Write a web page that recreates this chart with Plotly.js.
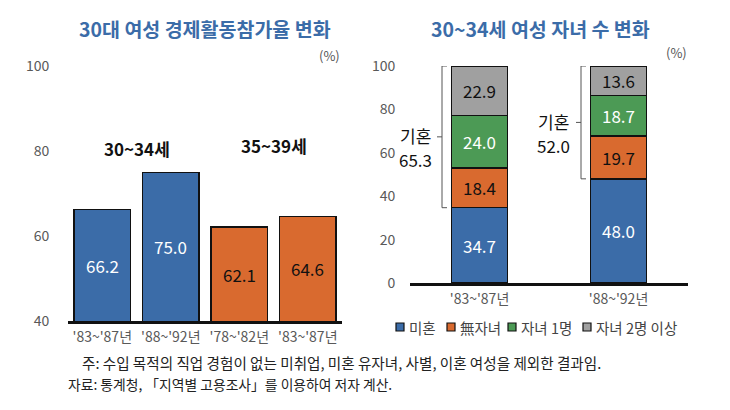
<!DOCTYPE html>
<html>
<head>
<meta charset="utf-8">
<script src="https://cdn.plot.ly/plotly-3.0.1.min.js"></script>
<style>
html,body{margin:0;padding:0;background:#fff;}
#chart{width:730px;height:410px;}
</style>
</head>
<body>
<div id="chart"></div>
<script>
// ---- data ----
const leftCats = ["'83~'87년", "'88~'92년", "'78~'82년", "'83~'87년"];
const leftVals = [66.2, 75.0, 62.1, 64.6];
const leftGroupIdx = [0, 0, 1, 1];
const leftGroups = ["30~34세", "35~39세"];
const leftTicks = [40, 60, 80, 100];

const rightCats = ["'83~'87년", "'88~'92년"];
const seriesNames = ["미혼", "無자녀", "자녀 1명", "자녀 2명 이상"];
const unmarried = [34.7, 48.0];
const childless = [18.4, 19.7];
const oneChild = [24.0, 18.7];
const twoPlus = [22.9, 13.6];
const marriedTotal = [65.3, 52.0];
const rightTicks = [0, 20, 40, 60, 80, 100];

const leftTitle = "30대 여성 경제활동참가율 변화";
const rightTitle = "30~34세 여성 자녀 수 변화";
const unitLabel = "(%)";
const marriedLabel = "기혼";
const note1 = "주: 수입 목적의 직업 경험이 없는 미취업, 미혼 유자녀, 사별, 이혼 여성을 제외한 결과임.";
const note2 = "자료: 통계청, 「지역별 고용조사」를 이용하여 저자 계산.";

// ---- styles ----
const FONT = "'Noto Sans CJK KR', 'Noto Sans', sans-serif";
const groupColors = ["#3b6ca8", "#d96a2f"];
const groupTextColors = ["#ffffff", "#111111"];
const seriesColors = ["#3b6ca8", "#d96a2f", "#4c9a55", "#a0a0a0"];
const seriesTextColors = ["#ffffff", "#111111", "#ffffff", "#111111"];
const W = 730, H = 410;
const px = v => v / W;
const py = v => 1 - v / H;
const LEFT_MIN = leftTicks[0];

const traces = [];
traces.push({
  type: 'bar',
  x: leftVals.map((_, i) => i),
  y: leftVals,
  width: 0.82,
  xaxis: 'x', yaxis: 'y',
  marker: {color: leftGroupIdx.map(g => groupColors[g]), line: {color: '#111', width: 1.5}},
  hoverinfo: 'skip',
  showlegend: false
});
const rightSeries = [unmarried, childless, oneChild, twoPlus];
rightSeries.forEach((vals, s) => {
  traces.push({
    type: 'bar',
    name: seriesNames[s],
    x: rightCats.map((_, i) => i),
    y: vals,
    width: 0.4,
    xaxis: 'x2', yaxis: 'y2',
    marker: {color: seriesColors[s], line: {color: '#111', width: 1.5}},
    texttemplate: '%{y:.1f}',
    textposition: 'inside',
    insidetextanchor: 'middle',
    textangle: 0,
    constraintext: 'none',
    textfont: {family: FONT, size: 17, color: seriesTextColors[s]},
    hoverinfo: 'skip',
    showlegend: false
  });
});

const annotations = [];
const shapes = [];
// left bar value labels (centered on visible part of each bar)
leftVals.forEach((v, i) => {
  annotations.push({text: v.toFixed(1), xref: 'x', yref: 'y', x: i, y: (LEFT_MIN + v) / 2, showarrow: false,
    font: {family: FONT, size: 17, color: groupTextColors[leftGroupIdx[i]]}, xanchor: 'center', yanchor: 'middle'});
});
// titles
annotations.push({text: leftTitle, xref: 'paper', yref: 'paper', x: px(205), y: py(28), showarrow: false,
  font: {family: FONT, size: 19.5, color: '#3b6ca8', weight: 'bold'}, xanchor: 'center', yanchor: 'middle'});
annotations.push({text: rightTitle, xref: 'paper', yref: 'paper', x: px(540), y: py(28), showarrow: false,
  font: {family: FONT, size: 19.5, color: '#3b6ca8', weight: 'bold'}, xanchor: 'center', yanchor: 'middle'});
// units
annotations.push({text: unitLabel, xref: 'paper', yref: 'paper', x: px(329), y: py(55), showarrow: false,
  font: {family: FONT, size: 13, color: '#555'}, xanchor: 'center', yanchor: 'middle'});
annotations.push({text: unitLabel, xref: 'paper', yref: 'paper', x: px(676), y: py(52), showarrow: false,
  font: {family: FONT, size: 13, color: '#555'}, xanchor: 'center', yanchor: 'middle'});
// group labels
const groupPos = [{x: 0.5, y: 80.7}, {x: 2.5, y: 81.4}];
leftGroups.forEach((g, i) => {
  annotations.push({text: g, xref: 'x', yref: 'y', x: groupPos[i].x, y: groupPos[i].y, showarrow: false,
    font: {family: FONT, size: 17, color: '#111', weight: 'bold'}, xanchor: 'center', yanchor: 'middle'});
});
// married brackets
const bracketX = [442, 581];
const labelX = [415, 553];
marriedTotal.forEach((m, i) => {
  const lo = 100 - m, hi = 100, mid = (lo + hi) / 2;
  const bx = bracketX[i];
  shapes.push({type: 'path', xref: 'paper', yref: 'y2',
    path: `M${px(bx + 5)},${lo} L${px(bx)},${lo} L${px(bx)},${hi} L${px(bx + 5)},${hi}`,
    line: {color: '#555', width: 1}});
  shapes.push({type: 'line', xref: 'paper', yref: 'y2', x0: px(bx - 5), x1: px(bx), y0: mid, y1: mid,
    line: {color: '#555', width: 1}});
  annotations.push({text: marriedLabel, xref: 'paper', yref: 'y2', x: px(labelX[i]), y: mid,
    yshift: 1, showarrow: false, borderpad: 0,
    font: {family: FONT, size: 17, color: '#111'}, xanchor: 'center', yanchor: 'middle'});
  annotations.push({text: m.toFixed(1), xref: 'paper', yref: 'y2', x: px(labelX[i]), y: mid,
    yshift: -23, showarrow: false, borderpad: 0,
    font: {family: FONT, size: 17, color: '#111'}, xanchor: 'center', yanchor: 'middle'});
});
// manual legend
const legSquareX = [396, 447, 508, 583];
const legY = 327;
seriesNames.forEach((n, s) => {
  const x0 = legSquareX[s];
  shapes.push({type: 'rect', xref: 'paper', yref: 'paper', x0: px(x0), x1: px(x0 + 8), y0: py(legY + 4), y1: py(legY - 4),
    fillcolor: seriesColors[s], line: {color: '#111', width: 1.2}});
  annotations.push({text: n, xref: 'paper', yref: 'paper', x: px(x0 + 11), y: py(legY), showarrow: false,
    font: {family: FONT, size: 14.5, color: '#444'}, xanchor: 'left', yanchor: 'middle'});
});
// notes
annotations.push({text: note1, xref: 'paper', yref: 'paper', x: px(81), y: py(362.5), showarrow: false, borderpad: 0,
  font: {family: FONT, size: 14.6, color: '#222'}, xanchor: 'left', yanchor: 'middle'});
annotations.push({text: note2, xref: 'paper', yref: 'paper', x: px(67), y: py(384), showarrow: false, borderpad: 0,
  font: {family: FONT, size: 13.8, color: '#222'}, xanchor: 'left', yanchor: 'middle'});

const tickFont = {family: FONT, size: 14, color: '#595959'};
const layout = {
  width: W, height: H, autosize: false,
  margin: {l: 0, r: 0, t: 0, b: 0},
  paper_bgcolor: '#fff', plot_bgcolor: '#fff',
  barmode: 'stack',
  showlegend: false,
  xaxis: {domain: [px(68), px(342)], range: [-0.5, 3.5], tickvals: leftVals.map((_, i) => i), ticktext: leftCats,
    showline: true, linecolor: '#111', linewidth: 2.5, showgrid: false, zeroline: false,
    ticks: 'outside', ticklen: 2, tickcolor: 'rgba(0,0,0,0)', tickfont: tickFont, fixedrange: true},
  yaxis: {domain: [py(321), py(66)], range: [LEFT_MIN, 100], tickvals: leftTicks, showline: false, showgrid: false, zeroline: false,
    ticks: 'outside', ticklen: 15, tickcolor: 'rgba(0,0,0,0)', tickfont: tickFont, fixedrange: true},
  xaxis2: {domain: [px(410), px(688)], range: [-0.5, 1.5], tickvals: rightCats.map((_, i) => i), ticktext: rightCats,
    anchor: 'y2', showline: true, linecolor: '#111', linewidth: 2.5, showgrid: false, zeroline: false,
    ticks: 'outside', ticklen: 2, tickcolor: 'rgba(0,0,0,0)', tickfont: tickFont, fixedrange: true},
  yaxis2: {domain: [py(283), py(66)], range: [0, 100], tickvals: rightTicks, anchor: 'x2', showline: false, showgrid: false, zeroline: false,
    ticks: 'outside', ticklen: 11, tickcolor: 'rgba(0,0,0,0)', tickfont: tickFont, fixedrange: true},
  annotations: annotations,
  shapes: shapes
};
Plotly.newPlot('chart', traces, layout, {staticPlot: true, displayModeBar: false});
</script>
</body>
</html>
